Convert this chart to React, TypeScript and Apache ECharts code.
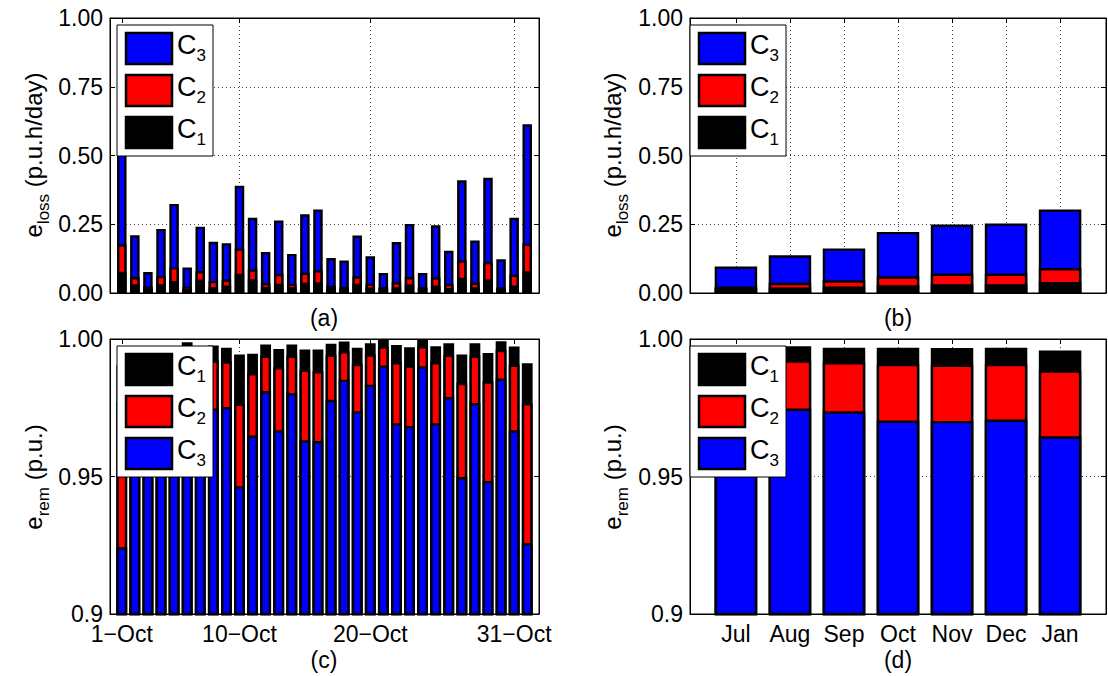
import React, { useEffect, useRef } from "react";
import * as echarts from "echarts";

const FONT = "'Liberation Sans', Arial, Helvetica, sans-serif";

// ---- daily data, October (32 days shown) ----
const days = [1, 2, 3, 4, 5, 6, 7, 8, 9, 10, 11, 12, 13, 14, 15, 16, 17, 18, 19, 20, 21, 22, 23, 24, 25, 26, 27, 28, 29, 30, 31, 32];
const dayTickValues = [1, 10, 20, 31];
const dayTickLabels = ["1\u2212Oct", "10\u2212Oct", "20\u2212Oct", "31\u2212Oct"];

// energy loss per class (p.u.h/day)
const lossDailyC1 = [0.077, 0.032, 0.016, 0.032, 0.044, 0.014, 0.049, 0.022, 0.027, 0.070, 0.050, 0.022, 0.034, 0.021, 0.037, 0.039, 0.018, 0.015, 0.034, 0.020, 0.019, 0.021, 0.032, 0.019, 0.027, 0.018, 0.055, 0.021, 0.049, 0.015, 0.027, 0.079];
const lossDailyC2 = [0.100, 0.026, 0.008, 0.030, 0.050, 0.010, 0.031, 0.022, 0.022, 0.092, 0.036, 0.014, 0.036, 0.013, 0.037, 0.044, 0.008, 0.008, 0.027, 0.014, 0.002, 0.019, 0.026, 0.002, 0.030, 0.015, 0.064, 0.017, 0.064, 0.006, 0.040, 0.101];
const lossDailyC3 = [0.413, 0.152, 0.052, 0.171, 0.230, 0.069, 0.161, 0.142, 0.132, 0.228, 0.188, 0.113, 0.194, 0.108, 0.212, 0.221, 0.101, 0.095, 0.148, 0.100, 0.052, 0.145, 0.193, 0.052, 0.189, 0.121, 0.291, 0.153, 0.306, 0.102, 0.207, 0.434];

// remaining energy per class (p.u.), stacked C3 + C2 + C1
const remDailyC3 = [0.9243, 0.9730, 0.9850, 0.9710, 0.9620, 0.9860, 0.9720, 0.9747, 0.9753, 0.9465, 0.9649, 0.9811, 0.9668, 0.9803, 0.9632, 0.9629, 0.9779, 0.9852, 0.9737, 0.9834, 0.9904, 0.9694, 0.9684, 0.9901, 0.9694, 0.9789, 0.9498, 0.9767, 0.9484, 0.9856, 0.9668, 0.9258];
const remDailyC2 = [0.0527, 0.0170, 0.0080, 0.0190, 0.0240, 0.0100, 0.0170, 0.0175, 0.0166, 0.0300, 0.0227, 0.0129, 0.0230, 0.0137, 0.0257, 0.0254, 0.0164, 0.0104, 0.0173, 0.0110, 0.0069, 0.0222, 0.0220, 0.0073, 0.0222, 0.0154, 0.0343, 0.0173, 0.0362, 0.0105, 0.0239, 0.0509];
const remDailyC1 = [0.0135, 0.0065, 0.0035, 0.0060, 0.0090, 0.0028, 0.0070, 0.0054, 0.0049, 0.0179, 0.0070, 0.0040, 0.0066, 0.0040, 0.0073, 0.0079, 0.0040, 0.0035, 0.0058, 0.0041, 0.0024, 0.0062, 0.0066, 0.0023, 0.0058, 0.0042, 0.0103, 0.0045, 0.0103, 0.0031, 0.0066, 0.0145];

// ---- monthly data ----
const months = ["Jul", "Aug", "Sep", "Oct", "Nov", "Dec", "Jan"];
const monthPos = [1, 2, 3, 4, 5, 6, 7];

const lossMonthlyC1 = [0.018, 0.020, 0.024, 0.028, 0.032, 0.032, 0.040];
const lossMonthlyC2 = [0.006, 0.017, 0.022, 0.033, 0.039, 0.039, 0.051];
const lossMonthlyC3 = [0.072, 0.100, 0.116, 0.161, 0.178, 0.182, 0.213];

const remMonthlyC3 = [0.9800, 0.9747, 0.9737, 0.9704, 0.9702, 0.9707, 0.9646];
const remMonthlyC2 = [0.0140, 0.0175, 0.0179, 0.0206, 0.0205, 0.0203, 0.0240];
const remMonthlyC1 = [0.0035, 0.0052, 0.0052, 0.0058, 0.0060, 0.0058, 0.0072];

const lossTicks = [0, 0.25, 0.5, 0.75, 1];
const remTicks = [0.9, 0.95, 1.0];

const COLORS: Record<string, string> = { C1: "#000000", C2: "#ff0000", C3: "#0000ff" };
const TOP_Z = 100;

// running sum of class segments, bottom segment first
const cumulate = (...parts: number[][]) =>
  parts.map((_, k) => parts[0].map((__, i) => parts.slice(0, k + 1).reduce((s, p) => s + p[i], 0)));

const pairs = (xs: number[], ys: number[]) => xs.map((x, i) => [x, ys[i]]);

const gridBox = (left: number, top: number, width: number, height: number) => ({
  left, top, width, height, show: true, borderColor: "#000", borderWidth: 1, backgroundColor: "#fff",
});

const dotted = { show: true, lineStyle: { color: "#444", width: 1, type: [1, 3] as any } };

function xAxisDef(gridIndex: number, kind: "day" | "month", showLabels: boolean, top = false) {
  const vals = kind === "day" ? dayTickValues : monthPos;
  const labels = kind === "day" ? dayTickLabels : months;
  return {
    type: "value",
    gridIndex,
    position: top ? "top" : "bottom",
    min: kind === "day" ? 0.1 : 0.15,
    max: kind === "day" ? 32.9 : 7.85,
    axisLine: { show: true, onZero: false, lineStyle: { color: "#000", width: 1 } },
    axisTick: { show: true, inside: true, length: 5, customValues: vals, lineStyle: { color: "#000" } },
    axisLabel: {
      show: showLabels,
      customValues: vals,
      color: "#000",
      fontSize: 23,
      fontFamily: FONT,
      margin: 8,
      formatter: (v: number) => {
        const i = vals.indexOf(Math.round(v));
        return i >= 0 ? labels[i] : "";
      },
    },
    splitLine: top ? { show: false } : dotted,
  };
}

function yAxisDef(gridIndex: number, kind: "loss" | "rem", right = false) {
  const ticks = kind === "loss" ? lossTicks : remTicks;
  return {
    type: "value",
    gridIndex,
    position: right ? "right" : "left",
    min: ticks[0],
    max: ticks[ticks.length - 1],
    interval: kind === "loss" ? 0.25 : 0.05,
    axisLine: { show: true, onZero: false, lineStyle: { color: "#000", width: 1 } },
    axisTick: { show: true, inside: true, length: 5, lineStyle: { color: "#000" } },
    axisLabel: {
      show: !right,
      color: "#000",
      fontSize: 23,
      fontFamily: FONT,
      margin: 7,
      formatter: (v: number) => (Math.abs(v - 0.9) < 1e-9 ? "0.9" : v.toFixed(2)),
    },
    splitLine: right ? { show: false } : dotted,
  };
}

// one bar series per cumulative level; levels overlap at the same x (tallest drawn first)
function levelSeries(name: string, idx: number, xs: number[], ys: number[], width: number) {
  return {
    type: "bar",
    name,
    xAxisIndex: idx,
    yAxisIndex: idx,
    barWidth: width,
    barGap: "-100%",
    data: pairs(xs, ys),
    itemStyle: { color: COLORS[name], borderColor: "#000", borderWidth: 2.4 },
  };
}

function stackedPanel(idx: number, xs: number[], bottomUp: [string, number[]][], width: number) {
  const levels = cumulate(...bottomUp.map((b) => b[1]));
  const out: any[] = [];
  for (let k = bottomUp.length - 1; k >= 0; k--) {
    out.push(levelSeries(bottomUp[k][0], idx, xs, levels[k], width));
  }
  return out;
}

// legend box drawn as graphic: white frame, colour swatches, C with subscript
function legendBox(x0: number, y0: number, order: string[]) {
  const els: any[] = [
    {
      type: "rect", z: TOP_Z,
      shape: { x: x0, y: y0, width: 96, height: 131 },
      style: { fill: "#fff", stroke: "#000", lineWidth: 1 },
    },
  ];
  order.forEach((name, i) => {
    const top = y0 + 8 + 42 * i;
    els.push({
      type: "rect", z: TOP_Z + 1,
      shape: { x: x0 + 9, y: top, width: 46, height: 31 },
      style: { fill: COLORS[name], stroke: "#000", lineWidth: 2.5 },
    });
    els.push({
      type: "text", z: TOP_Z + 1,
      x: x0 + 60,
      y: top + 12,
      style: {
        text: `{c|C}{s|${name.slice(1)}}`,
        rich: {
          c: { fontSize: 27, lineHeight: 38, fontFamily: FONT, fill: "#000" },
          s: { fontSize: 17, lineHeight: 10, verticalAlign: "bottom", fontFamily: FONT, fill: "#000" },
        },
        align: "left",
        verticalAlign: "middle",
        fill: "#000",
      },
    });
  });
  return els;
}

function yTitle(x: number, y: number, sub: string, unit: string) {
  return {
    type: "text",
    x,
    y,
    rotation: Math.PI / 2,
    z: TOP_Z,
    style: {
      text: `{n|e}{s|${sub}}{n| ${unit}}`,
      rich: {
        n: { fontSize: 24, lineHeight: 38, fontFamily: FONT, fill: "#000" },
        s: { fontSize: 17, lineHeight: 10, verticalAlign: "bottom", fontFamily: FONT, fill: "#000" },
      },
      align: "center",
      verticalAlign: "middle",
      fill: "#000",
    },
  };
}

function panelTag(x: number, y: number, t: string) {
  return {
    type: "text",
    x,
    y,
    z: TOP_Z,
    style: { text: t, fontSize: 23, fontFamily: FONT, fill: "#000", align: "center", verticalAlign: "middle" },
  };
}

export default function App() {
  const ref = useRef<HTMLDivElement>(null);

  useEffect(() => {
    if (!ref.current) return;
    const chart = echarts.init(ref.current, undefined, { renderer: "svg" });

    const option: any = {
      animation: false,
      backgroundColor: "#fff",
      textStyle: { fontFamily: FONT },
      grid: [
        gridBox(110, 18, 429, 275),
        gridBox(690, 18, 416, 275),
        gridBox(110, 339, 429, 275),
        gridBox(690, 339, 416, 275),
      ],
      xAxis: [
        xAxisDef(0, "day", false),
        xAxisDef(1, "month", false),
        xAxisDef(2, "day", true),
        xAxisDef(3, "month", true),
        xAxisDef(0, "day", false, true),
        xAxisDef(1, "month", false, true),
        xAxisDef(2, "day", false, true),
        xAxisDef(3, "month", false, true),
      ],
      yAxis: [
        yAxisDef(0, "loss"),
        yAxisDef(1, "loss"),
        yAxisDef(2, "rem"),
        yAxisDef(3, "rem"),
        yAxisDef(0, "loss", true),
        yAxisDef(1, "loss", true),
        yAxisDef(2, "rem", true),
        yAxisDef(3, "rem", true),
      ],
      series: [
        ...stackedPanel(0, days, [["C1", lossDailyC1], ["C2", lossDailyC2], ["C3", lossDailyC3]], 9.5),
        ...stackedPanel(1, monthPos, [["C1", lossMonthlyC1], ["C2", lossMonthlyC2], ["C3", lossMonthlyC3]], 42.5),
        ...stackedPanel(2, days, [["C3", remDailyC3], ["C2", remDailyC2], ["C1", remDailyC1]], 10.8),
        ...stackedPanel(3, monthPos, [["C3", remMonthlyC3], ["C2", remMonthlyC2], ["C1", remMonthlyC1]], 42.5),
      ],
      graphic: [
        ...legendBox(117, 25, ["C3", "C2", "C1"]),
        ...legendBox(690, 25, ["C3", "C2", "C1"]),
        ...legendBox(117, 346, ["C1", "C2", "C3"]),
        ...legendBox(690, 346, ["C1", "C2", "C3"]),
        yTitle(33, 155, "loss", "(p.u.h/day)"),
        yTitle(612, 155, "loss", "(p.u.h/day)"),
        yTitle(33, 477, "rem", "(p.u.)"),
        yTitle(612, 477, "rem", "(p.u.)"),
        panelTag(324, 318, "(a)"),
        panelTag(898, 318, "(b)"),
        panelTag(324, 660, "(c)"),
        panelTag(898, 660, "(d)"),
      ],
    };

    chart.setOption(option);
    return () => chart.dispose();
  }, []);

  return (
    <div
      ref={ref}
      style={{ position: "fixed", left: 0, top: 0, width: 1108, height: 676, background: "#fff" }}
    />
  );
}
